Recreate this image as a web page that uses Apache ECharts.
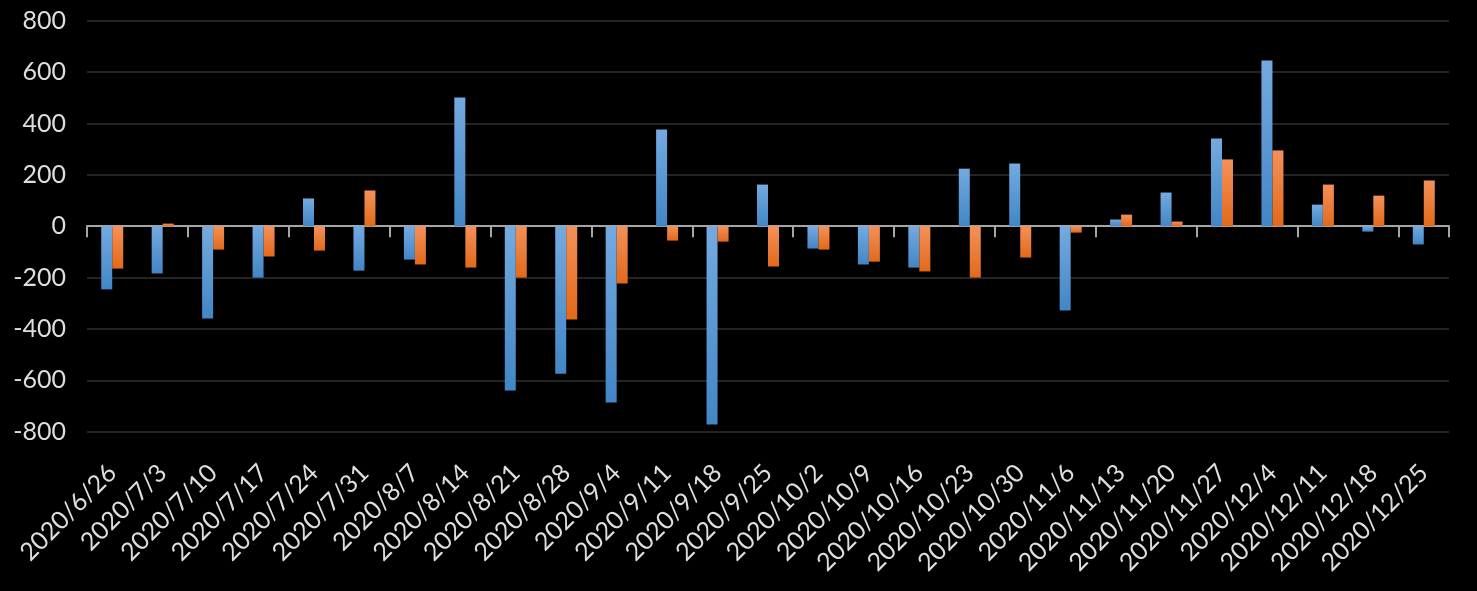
<!DOCTYPE html>
<html>
<head>
<meta charset="utf-8">
<script src="https://cdn.jsdelivr.net/npm/echarts@6/dist/echarts.min.js"></script>
<style>
html,body{margin:0;padding:0;background:#000;}
#chart{width:1477px;height:591px;}
</style>
</head>
<body>
<div id="chart"></div>
<script>
const categories = ["2020/6/26","2020/7/3","2020/7/10","2020/7/17","2020/7/24","2020/7/31","2020/8/7","2020/8/14","2020/8/21","2020/8/28","2020/9/4","2020/9/11","2020/9/18","2020/9/25","2020/10/2","2020/10/9","2020/10/16","2020/10/23","2020/10/30","2020/11/6","2020/11/13","2020/11/20","2020/11/27","2020/12/4","2020/12/11","2020/12/18","2020/12/25"];
const seriesBlue = [-246,-184,-359,-200,108,-173,-130,501,-640,-574,-686,376,-772,162,-87,-149,-161,224,244,-328,26,131,341,645,84,-21,-71];
const seriesOrange = [-165,10,-91,-118,-95,139,-149,-161,-200,-363,-223,-56,-60,-157,-91,-138,-176,-200,-122,-25,45,18,260,295,162,119,178];
const yTicks = {min:-800, max:800, interval:200};

const chart = echarts.init(document.getElementById('chart'), null, {renderer:'canvas'});
const font = 'Lato';
const textColor = '#dedede';
function grad(top, bottom){
  return new echarts.graphic.LinearGradient(0,0,0,1,[{offset:0,color:top},{offset:1,color:bottom}]);
}
chart.setOption({
  backgroundColor:'#000',
  animation:false,
  grid:{left:87,right:28,top:20.7,bottom:159.3,containLabel:false},
  xAxis:[{
    type:'category', data:categories, position:'bottom',
    axisLine:{onZero:true, lineStyle:{color:'#a6a6a6', width:2}},
    axisTick:{show:true, length:11, lineStyle:{color:'#a6a6a6', width:2}},
    axisLabel:{show:false},
    splitLine:{show:false}
  },{
    type:'category', data:categories, position:'bottom',
    axisLine:{show:false, onZero:false},
    axisTick:{show:false},
    axisLabel:{show:true, rotate:45, interval:0, margin:37, color:textColor, fontFamily:font, fontSize:25},
    splitLine:{show:false}
  }],
  yAxis:{
    type:'value', min:yTicks.min, max:yTicks.max, interval:yTicks.interval,
    axisLine:{show:false}, axisTick:{show:false},
    axisLabel:{color:textColor, fontFamily:font, fontSize:25, margin:21},
    splitLine:{lineStyle:{color:'#242424', width:2}}
  },
  series:[{
    type:'bar', data:seriesBlue, xAxisIndex:0, barWidth:11, barGap:'0%',
    itemStyle:{color:grad('#74aae0','#4286c6')}
  },{
    type:'bar', data:seriesOrange, xAxisIndex:0, barWidth:11, barGap:'0%',
    itemStyle:{color:grad('#f3915a','#e2691a')}
  }]
});
</script>
</body>
</html>
